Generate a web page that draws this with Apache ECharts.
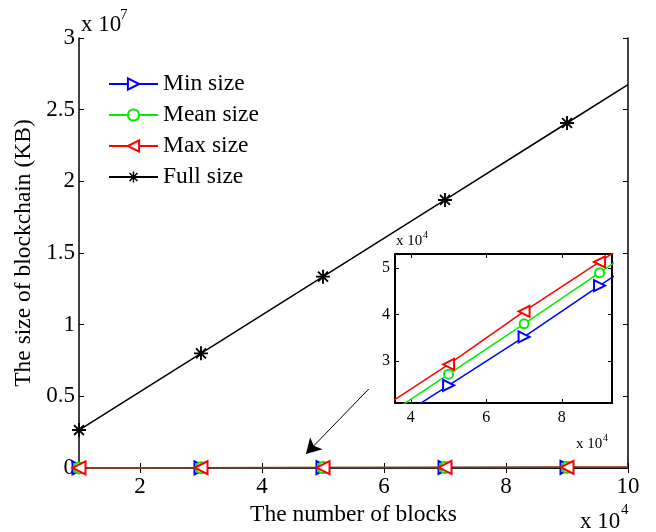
<!DOCTYPE html>
<html>
<head>
<meta charset="utf-8">
<script src="https://cdn.jsdelivr.net/npm/echarts@6/dist/echarts.min.js"></script>
<style>
  html, body { margin: 0; padding: 0; background: #fff; }
  #chart { width: 656px; height: 532px; }
</style>
</head>
<body>
<div id="chart"></div>
<script>
// Data (sizes in KB); last point at 100000 blocks has no marker
const blocks = [10000, 30000, 50000, 70000, 90000, 100000];
const minSize = [4100, 14400, 24800, 35200, 46200, 51500];
const meanSize = [6300, 16400, 27200, 38000, 49000, 54500];
const maxSize = [8400, 18700, 29300, 40700, 51300, 56700];
const fullSize = [2650000, 8000000, 13350000, 18700000, 24070000, 26750000];

const mainXTicks = [20000, 40000, 60000, 80000, 100000];
const insetXTicks = [40000, 60000, 80000];
const insetYTicks = [30000, 40000, 50000];

const FONT = "'Liberation Serif', 'DejaVu Serif', serif";
const ASTERISK = 'path://M-0.8,-6L0.8,-6L0.8,6L-0.8,6Z M-6,-0.8L6,-0.8L6,0.8L-6,0.8Z ' +
  'M-4.81,-3.68L-3.68,-4.81L4.81,3.68L3.68,4.81Z M-4.81,3.68L3.68,-4.81L4.81,-3.68L-3.68,4.81Z';

const toPoints = (vals) => vals.map((v, i) =>
  i === blocks.length - 1 ? { value: [blocks[i], v], symbol: 'none' } : [blocks[i], v]);

const seriesDefs = [
  { name: 'Min size', data: minSize, color: '#0000ff', symbol: 'emptyTriangle', rotate: -90, size: 13, insetSize: 11 },
  { name: 'Mean size', data: meanSize, color: '#00ee00', symbol: 'emptyCircle', rotate: 0, size: 11, insetSize: 9 },
  { name: 'Max size', data: maxSize, color: '#ff0000', symbol: 'emptyTriangle', rotate: 90, size: 13, insetSize: 11 },
];

const chart = echarts.init(document.getElementById('chart'));

const boxAxis = (extra) => Object.assign({
  type: 'value',
  axisLine: { show: true, lineStyle: { color: '#000', width: 1.5 } },
  axisTick: { show: true, inside: true, length: 5, lineStyle: { color: '#000', width: 1 } },
  splitLine: { show: false },
  axisLabel: { show: false },
}, extra);

const series = [];
seriesDefs.forEach((s) => {
  series.push({
    name: s.name, type: 'line', xAxisIndex: 0, yAxisIndex: 0,
    data: toPoints(s.data), symbol: s.symbol, symbolRotate: s.rotate, symbolSize: s.size,
    color: s.color, lineStyle: { color: s.color, width: 1.5 },
    itemStyle: { color: s.color, borderColor: s.color, borderWidth: 1.5 },
  });
});
series.push({
  name: 'Full size', type: 'line', xAxisIndex: 0, yAxisIndex: 0,
  data: toPoints(fullSize), symbol: ASTERISK, symbolSize: 14,
  color: '#000', lineStyle: { color: '#000', width: 1.5 },
  itemStyle: { color: '#000', borderWidth: 0 },
  markLine: {
    silent: true, symbol: ['none', 'arrow'], symbolSize: [13, 15],
    label: { show: false },
    lineStyle: { color: '#000', width: 1, type: 'solid' },
    data: [[{ coord: [57500, 5510000] }, { coord: [47200, 980000] }]],
  },
});
// inset copies of the three small series
seriesDefs.forEach((s) => {
  series.push({
    name: s.name, type: 'line', xAxisIndex: 2, yAxisIndex: 2, clip: true, z: 5,
    data: toPoints(s.data), symbol: s.symbol, symbolRotate: s.rotate, symbolSize: s.insetSize,
    color: s.color, lineStyle: { color: s.color, width: 1.5 },
    itemStyle: { color: s.color, borderColor: s.color, borderWidth: 1.5 },
  });
});

const option = {
  animation: false,
  backgroundColor: '#fff',
  textStyle: { fontFamily: FONT, color: '#000' },
  grid: [
    { left: 79, top: 38, right: 28, bottom: 64, containLabel: false },
    { left: 395, top: 254, width: 217, height: 149, containLabel: false },
  ],
  legend: {
    orient: 'vertical', left: 103, top: 67,
    itemWidth: 49, itemHeight: 14, itemGap: 7,
    data: ['Min size', 'Mean size', 'Max size', 'Full size'],
    textStyle: { fontFamily: FONT, fontSize: 23.5, color: '#000', lineHeight: 23 },
  },
  xAxis: [
    boxAxis({
      gridIndex: 0, position: 'bottom', min: 10000, max: 100000,
      name: 'The number of blocks', nameLocation: 'middle', nameGap: 29,
      nameTextStyle: { fontFamily: FONT, fontSize: 23.5, color: '#000' },
      axisTick: { show: true, inside: true, length: 5, customValues: mainXTicks, lineStyle: { color: '#000' } },
      axisLabel: { show: true, margin: 7, customValues: mainXTicks, fontFamily: FONT, fontSize: 23, color: '#000',
        formatter: (v) => String(v / 10000) },
    }),
    boxAxis({
      gridIndex: 0, position: 'top', min: 10000, max: 100000,
      axisTick: { show: true, inside: true, length: 5, customValues: mainXTicks, lineStyle: { color: '#000' } },
    }),
    boxAxis({
      gridIndex: 1, position: 'bottom', min: 35800, max: 93300,
      axisLine: { show: true, lineStyle: { color: '#000', width: 2 } },
      axisTick: { show: true, inside: true, length: 4, customValues: insetXTicks, lineStyle: { color: '#000' } },
      axisLabel: { show: true, margin: 7, customValues: insetXTicks, fontFamily: FONT, fontSize: 16, color: '#000',
        formatter: (v) => String(v / 10000) },
    }),
    boxAxis({
      gridIndex: 1, position: 'top', min: 35800, max: 93300,
      axisLine: { show: true, lineStyle: { color: '#000', width: 2 } },
      axisTick: { show: true, inside: true, length: 4, customValues: insetXTicks, lineStyle: { color: '#000' } },
    }),
  ],
  yAxis: [
    boxAxis({
      gridIndex: 0, position: 'left', min: 0, max: 30000000, interval: 5000000,
      name: 'The size of blockchain (KB)', nameLocation: 'middle', nameGap: 39,
      nameTextStyle: { fontFamily: FONT, fontSize: 23.5, color: '#000' },
      axisLabel: { show: true, margin: 4, fontFamily: FONT, fontSize: 23, color: '#000',
        formatter: (v) => String(v / 10000000) },
    }),
    boxAxis({ gridIndex: 0, position: 'right', min: 0, max: 30000000, interval: 5000000 }),
    boxAxis({
      gridIndex: 1, position: 'left', min: 21000, max: 53000,
      axisLine: { show: true, lineStyle: { color: '#000', width: 2 } },
      axisTick: { show: true, inside: true, length: 4, customValues: insetYTicks, lineStyle: { color: '#000' } },
      axisLabel: { show: true, margin: 5, customValues: insetYTicks, fontFamily: FONT, fontSize: 16, color: '#000',
        formatter: (v) => String(v / 10000) },
    }),
    boxAxis({
      gridIndex: 1, position: 'right', min: 21000, max: 53000,
      axisLine: { show: true, lineStyle: { color: '#000', width: 2 } },
      axisTick: { show: true, inside: true, length: 4, customValues: insetYTicks, lineStyle: { color: '#000' } },
    }),
  ],
  graphic: [
    { type: 'text', left: 81, top: 13, style: { text: 'x 10', font: '23px ' + FONT, fill: '#000' } },
    { type: 'text', left: 120, top: 8, style: { text: '7', font: '15px ' + FONT, fill: '#000' } },
    { type: 'text', left: 580, top: 510, style: { text: 'x 10', font: '23px ' + FONT, fill: '#000' } },
    { type: 'text', left: 621, top: 503, style: { text: '4', font: '15px ' + FONT, fill: '#000' } },
    { type: 'text', left: 396, top: 234, style: { text: 'x 10', font: '15px ' + FONT, fill: '#000' } },
    { type: 'text', left: 423, top: 230, style: { text: '4', font: '10px ' + FONT, fill: '#000' } },
    { type: 'text', left: 576, top: 437, style: { text: 'x 10', font: '15px ' + FONT, fill: '#000' } },
    { type: 'text', left: 603, top: 433, style: { text: '4', font: '10px ' + FONT, fill: '#000' } },
  ],
  series: series,
};

chart.setOption(option);
</script>
</body>
</html>
